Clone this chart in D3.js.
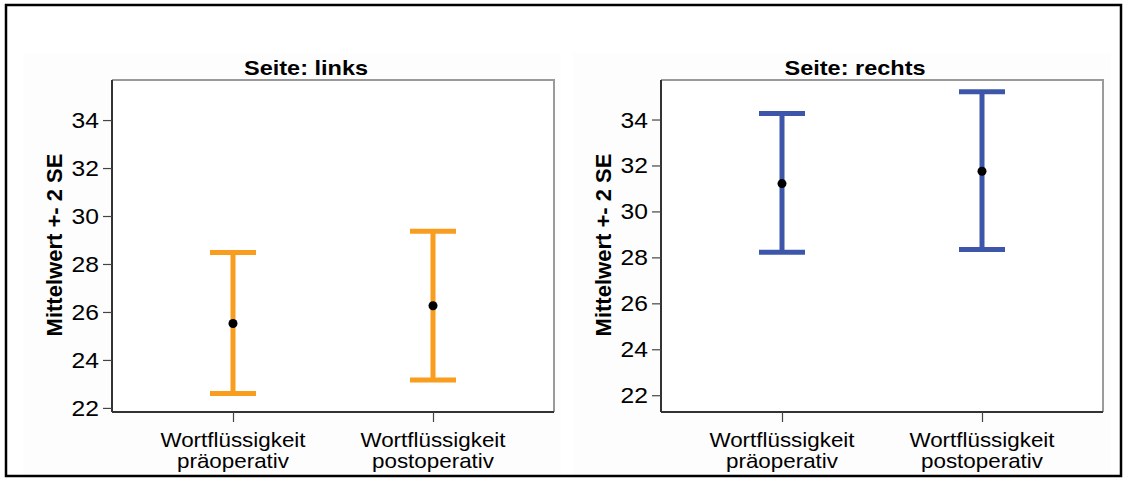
<!DOCTYPE html>
<html>
<head>
<meta charset="utf-8">
<script src="https://cdn.jsdelivr.net/npm/d3@7"></script>
<style>
  body { margin: 0; background: #fff; }
  text { font-family: Arial, "Liberation Sans", sans-serif; fill: #000; }
</style>
</head>
<body>
<script>
const width = 1129;
const height = 504;

// data
const sides = ["links", "rechts"];
const catLine1 = ["Wortflüssigkeit", "Wortflüssigkeit"];
const catLine2 = ["präoperativ", "postoperativ"];
const categories = ["prae", "post"];
const meanLinks = [25.52, 26.26];
const lowerLinks = [22.6, 23.16];
const upperLinks = [28.48, 29.37];
const meanRechts = [31.21, 31.75];
const lowerRechts = [28.22, 28.34];
const upperRechts = [34.26, 35.21];
const yTicks = [22, 24, 26, 28, 30, 32, 34];
const yDomainLinks = [21.83, 35.67];
const yDomainRechts = [21.27, 35.72];
const barColors = ["#f99d1e", "#3d56aa"];

const panels = [
    { side: sides[0], mean: meanLinks, lo: lowerLinks, hi: upperLinks, dom: yDomainLinks, left: 112, bgX: 23 },
    { side: sides[1], mean: meanRechts, lo: lowerRechts, hi: upperRechts, dom: yDomainRechts, left: 661, bgX: 573 }
];
const plotW = 442;
const plotTop = 80;
const plotBottom = 412;
const stretch = 1.12; // the picture's text is a bit wider than plain Arial

const svg = d3.select("body")
    .append("svg")
    .attr("width", width)
    .attr("height", height);

svg.append("rect")
    .attr("x", 0).attr("y", 0)
    .attr("width", width).attr("height", height)
    .attr("fill", "#fff");

// text that is stretched horizontally around its anchor point
function wideText(parent, x, y, str, size, anchor, weight) {
    return parent.append("text")
        .attr("transform", `translate(${x},${y}) scale(${stretch},1)`)
        .attr("text-anchor", anchor)
        .attr("font-size", size)
        .attr("font-weight", weight || "normal")
        .attr("fill", "#111")
        .text(str);
}

panels.forEach(function (p, i) {
    // faint panel background
    svg.append("rect")
        .attr("x", p.bgX).attr("y", 53)
        .attr("width", 538).attr("height", 425)
        .attr("fill", "#fdfdfd");

    const g = svg.append("g");

    const x = d3.scalePoint()
        .domain(categories)
        .range([p.left, p.left + plotW])
        .padding(0.605);

    const y = d3.scaleLinear()
        .domain(p.dom)
        .range([plotBottom, plotTop]);

    // plot area
    g.append("rect")
        .attr("x", p.left).attr("y", plotTop)
        .attr("width", plotW).attr("height", plotBottom - plotTop)
        .attr("fill", "#fff");
    g.append("path")
        .attr("d", `M${p.left},${plotTop}H${p.left + plotW}V${plotBottom}`)
        .attr("fill", "none")
        .attr("stroke", "#9a9a9a")
        .attr("stroke-width", 2);

    // y axis
    const yAxis = g.append("g")
        .attr("transform", `translate(${p.left},0)`)
        .call(d3.axisLeft(y).tickValues(yTicks).tickSize(9).tickSizeOuter(0).tickFormat(""));
    yAxis.select(".domain").attr("stroke", "#333").attr("stroke-width", 2)
        .attr("d", `M0,${plotTop}V${plotBottom}`);
    yAxis.selectAll(".tick line").attr("stroke", "#444").attr("stroke-width", 1.2);
    yTicks.forEach(function (v) {
        wideText(g, p.left - 13, y(v) + 8, d3.format("d")(v), 22, "end");
    });

    // x axis
    const xAxis = g.append("g")
        .attr("transform", `translate(0,${plotBottom})`)
        .call(d3.axisBottom(x).tickSize(10).tickSizeOuter(0).tickFormat(""));
    xAxis.select(".domain").attr("stroke", "#333").attr("stroke-width", 2)
        .attr("d", `M${p.left},0H${p.left + plotW}`);
    xAxis.selectAll(".tick line").attr("stroke", "#444").attr("stroke-width", 1.2);

    categories.forEach(function (c, j) {
        wideText(g, x(c), 447, catLine1[j], 20, "middle");
        wideText(g, x(c), 468, catLine2[j], 20, "middle");
    });

    // y title
    g.append("text")
        .attr("transform", `translate(${p.left - 50},${(plotTop + plotBottom) / 2 - 1}) rotate(-90)`)
        .attr("text-anchor", "middle")
        .attr("font-size", 22)
        .attr("font-weight", "bold")
        .text("Mittelwert +- 2 SE");

    // panel title
    wideText(g, p.left + plotW / 2 - 27, 75, "Seite: " + p.side, 21, "middle", "bold")
        .attr("fill", "#000");

    // error bars
    const capHalf = 23;
    const bars = g.selectAll(".bar")
        .data(categories.map((c, j) => ({ c: c, m: p.mean[j], lo: p.lo[j], hi: p.hi[j] })))
        .enter()
        .append("g")
        .attr("class", "bar");
    bars.append("line")
        .attr("x1", d => x(d.c)).attr("x2", d => x(d.c))
        .attr("y1", d => y(d.lo)).attr("y2", d => y(d.hi))
        .attr("stroke", barColors[i]).attr("stroke-width", 5);
    bars.append("line")
        .attr("x1", d => x(d.c) - capHalf).attr("x2", d => x(d.c) + capHalf)
        .attr("y1", d => y(d.hi)).attr("y2", d => y(d.hi))
        .attr("stroke", barColors[i]).attr("stroke-width", 5);
    bars.append("line")
        .attr("x1", d => x(d.c) - capHalf).attr("x2", d => x(d.c) + capHalf)
        .attr("y1", d => y(d.lo)).attr("y2", d => y(d.lo))
        .attr("stroke", barColors[i]).attr("stroke-width", 5);
    bars.append("circle")
        .attr("cx", d => x(d.c))
        .attr("cy", d => y(d.m))
        .attr("r", 4.5)
        .attr("fill", "#000");
});

// outer frame
svg.append("rect")
    .attr("x", 6).attr("y", 5)
    .attr("width", 1115).attr("height", 471)
    .attr("fill", "none")
    .attr("stroke", "#000")
    .attr("stroke-width", 2.5);
</script>
</body>
</html>
